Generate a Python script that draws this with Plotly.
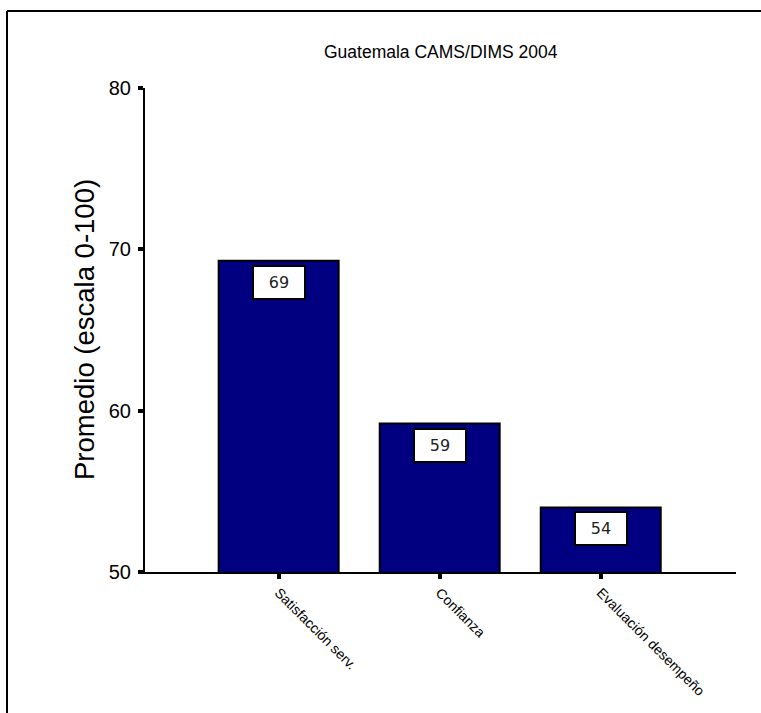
import plotly.graph_objects as go

categories = ["Satisfacción serv.", "Confianza", "Evaluación desempeño"]
values = [69.3, 59.2, 54.0]
value_labels = ["69", "59", "54"]
y_ticks = [50, 60, 70, 80]
title_text = "Guatemala CAMS/DIMS 2004"
y_title = "Promedio (escala 0-100)"

L, R_EDGE, T, B_EDGE = 145, 736, 88, 572
W, H = 761, 713
PW, PH = R_EDGE - L, B_EDGE - T

fig = go.Figure()
fig.add_trace(go.Bar(
    x=categories, y=values, base=0,
    marker=dict(color="#000080", line=dict(color="black", width=2)),
    width=0.745, showlegend=False, hoverinfo="skip",
))

for c, v, t in zip(categories, values, value_labels):
    fig.add_annotation(
        x=c, y=v, xref="x", yref="y", text=t, showarrow=False,
        yanchor="top", yshift=-4, width=50, height=31,
        bgcolor="white", bordercolor="black", borderwidth=2, borderpad=0,
        font=dict(family="DejaVu Sans", size=16, color="#222"),
    )

fig.add_annotation(
    x=0.5, y=1.0 + (T - 52) / PH, xref="paper", yref="paper",
    text=title_text, showarrow=False, xanchor="center", yanchor="middle",
    font=dict(family="Liberation Sans, Arial", size=17.5, color="black"),
)

fig.add_annotation(
    x=(84 - L) / PW, y=0.5, xref="paper", yref="paper",
    text=y_title, showarrow=False, xanchor="center", yanchor="middle",
    textangle=-90,
    font=dict(family="Liberation Sans, Arial", size=27.5, color="black"),
)

# outer frame: only the top and left sides are visible (rest is cut off)
fx0, fy_top = (7 - L) / PW, (B_EDGE - 11) / PH
fig.add_shape(type="line", xref="paper", yref="paper",
              x0=fx0, x1=(W - L) / PW, y0=fy_top, y1=fy_top,
              line=dict(color="black", width=2), layer="above")
fig.add_shape(type="line", xref="paper", yref="paper",
              x0=fx0, x1=fx0, y0=(B_EDGE - H) / PH, y1=fy_top,
              line=dict(color="black", width=2), layer="above")

fig.update_layout(
    width=W, height=H,
    margin=dict(l=L, r=W - R_EDGE, t=T, b=H - B_EDGE),
    paper_bgcolor="white", plot_bgcolor="white",
    font=dict(family="Liberation Sans, Arial", color="black"),
    xaxis=dict(
        range=[-0.83, 2.84], showline=True, linecolor="black", linewidth=2,
        ticks="outside", ticklen=5, tickwidth=4, tickcolor="black",
        tickangle=45, tickfont=dict(family="Liberation Sans, Arial", size=14),
        showgrid=False, zeroline=False,
    ),
    yaxis=dict(
        range=[50, 80], tickvals=y_ticks, showline=True, linecolor="black",
        linewidth=2, ticks="outside", ticklen=5, tickwidth=4, tickcolor="black",
        tickfont=dict(family="Liberation Sans, Arial", size=20),
        showgrid=False, zeroline=False, ticklabelstandoff=3,
    ),
)

fig.write_html(
    "out.html",
    config={"displayModeBar": False},
    post_script="document.body.style.margin='0';document.body.style.overflow='hidden';",
)
